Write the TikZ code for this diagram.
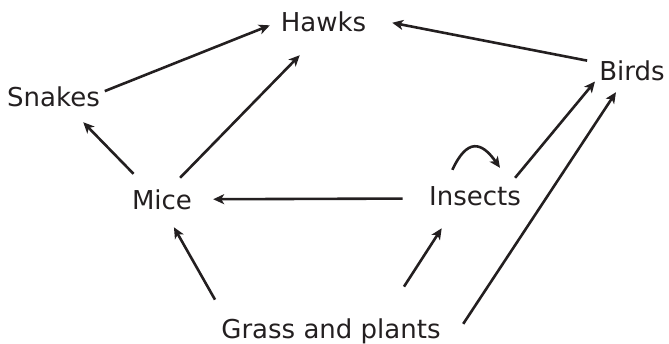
\documentclass[tikz,border=0pt]{standalone}
\usepackage{fontspec}
\setmainfont{DejaVu Sans}
\usetikzlibrary{arrows.meta}
\definecolor{ink}{HTML}{231F20}
\begin{document}
\begin{tikzpicture}[x=1pt,y=-1pt,
  lbl/.style={inner sep=12pt, text height=19pt, text depth=0pt,
    font=\fontsize{26}{30}\selectfont, text=ink},
  arr/.style={-{Stealth[length=11pt,width=10pt,inset=3pt]}, line width=2.6pt, draw=ink}]
\useasboundingbox (0,0) rectangle (669,344);
\node[lbl] (hawks)   at (323.5,22)  {Hawks};
\node[lbl] (snakes)  at (53.5,97.5) {Snakes};
\node[lbl] (birds)   at (632,71)    {Birds};
\node[lbl] (mice)    at (162,200)   {Mice};
\node[lbl] (insects) at (475,196.5) {Insects};
\node[lbl] (grass)   at (331,329)   {Grass and plants};
\draw[arr,shorten <=-7.8pt,shorten >=-1.3pt] (snakes.9) -- (hawks.184);
\draw[arr,shorten <=0.7pt,shorten >=16.1pt] (mice.51) -- (hawks.240);
\draw[arr,shorten <=6.3pt,shorten >=4.2pt] (mice.138) -- (snakes.-39);
\draw[arr,shorten <=0pt,shorten >=14.1pt] (birds.167) -- (hawks.2);
\draw[arr,shorten <=-3.9pt,shorten >=-12.3pt] (insects.27) -- (birds.204.5);
\draw[arr,shorten <=18.9pt,shorten >=-0.6pt] (grass.-5.5) -- (birds.233);
\draw[arr,shorten <=14.2pt,shorten >=9pt] (insects.182) -- (mice.1);
\draw[arr,shorten <=8.8pt,shorten >=6.4pt] (grass.169) -- (mice.-68);
\draw[arr,shorten <=24.6pt,shorten >=12pt] (grass.20) -- (insects.219);
\draw[arr,shorten <=5.5pt,shorten >=8.5pt] (insects.139) to[out=65,in=125,looseness=1.9] (insects.36);
\end{tikzpicture}
\end{document}
